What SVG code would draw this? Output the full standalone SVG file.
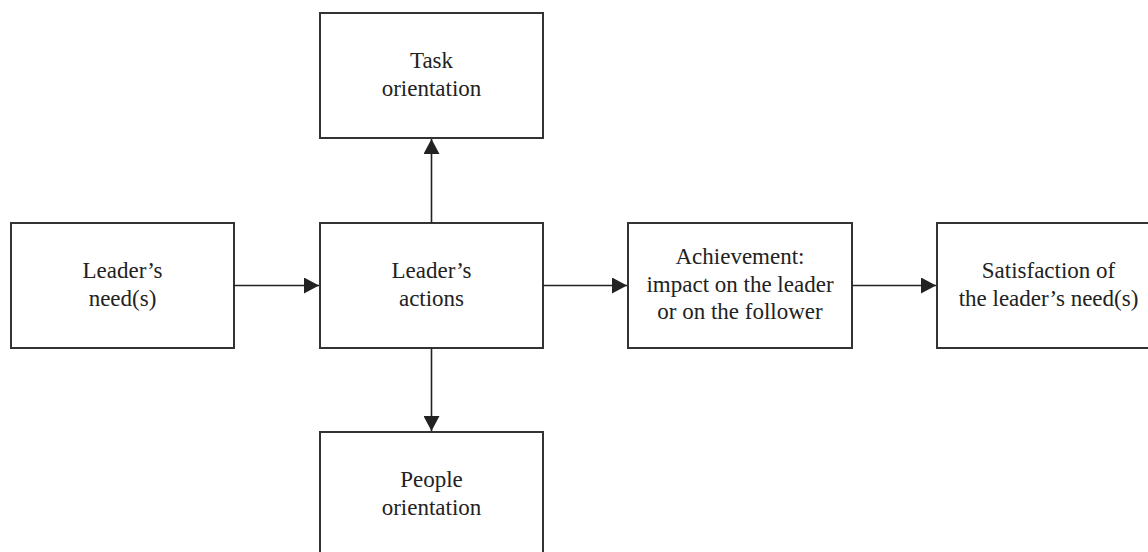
<svg xmlns="http://www.w3.org/2000/svg" width="1148" height="552" viewBox="0 0 1148 552">
<style>
.box{fill:#fff;stroke:#333;stroke-width:2}
.t{font-family:"Liberation Serif","Times New Roman",serif;font-size:23px;fill:#222;text-anchor:middle}
.c{stroke:#222;stroke-width:1.6;fill:none}
</style>
<defs>
<marker id="ah" markerUnits="userSpaceOnUse" markerWidth="16" markerHeight="16" refX="15" refY="8" orient="auto" viewBox="0 0 16 16">
<path d="M0,0 L15,8 L0,16 Z" fill="#222"/>
</marker>
</defs>
<rect width="1148" height="552" fill="#fff"/>
<g id="task">
<rect class="box" x="320" y="13" width="223" height="125"/>
<text class="t" x="431.5" y="68">Task</text>
<text class="t" x="431.5" y="96">orientation</text>
</g>
<g id="needs">
<rect class="box" x="11" y="223" width="223" height="125"/>
<text class="t" x="122.5" y="278">Leader’s</text>
<text class="t" x="122.5" y="306">need(s)</text>
</g>
<g id="actions">
<rect class="box" x="320" y="223" width="223" height="125"/>
<text class="t" x="431.5" y="278">Leader’s</text>
<text class="t" x="431.5" y="306">actions</text>
</g>
<g id="achievement">
<rect class="box" x="628" y="223" width="224" height="125"/>
<text class="t" x="740" y="264">Achievement:</text>
<text class="t" x="740" y="292">impact on the leader</text>
<text class="t" x="740" y="319">or on the follower</text>
</g>
<g id="satisfaction">
<rect class="box" x="937" y="223" width="223" height="125"/>
<text class="t" x="1048.5" y="278">Satisfaction of</text>
<text class="t" x="1048.5" y="306">the leader’s need(s)</text>
</g>
<g id="people">
<rect class="box" x="320" y="432" width="223" height="125"/>
<text class="t" x="431.5" y="487">People</text>
<text class="t" x="431.5" y="515">orientation</text>
</g>
<g id="connectors">
<line class="c" x1="234" y1="285.5" x2="319" y2="285.5" marker-end="url(#ah)"/>
<line class="c" x1="543" y1="285.5" x2="627" y2="285.5" marker-end="url(#ah)"/>
<line class="c" x1="852" y1="285.5" x2="936" y2="285.5" marker-end="url(#ah)"/>
<line class="c" x1="431.5" y1="223" x2="431.5" y2="139" marker-end="url(#ah)"/>
<line class="c" x1="431.5" y1="348" x2="431.5" y2="431" marker-end="url(#ah)"/>
</g>
</svg>
